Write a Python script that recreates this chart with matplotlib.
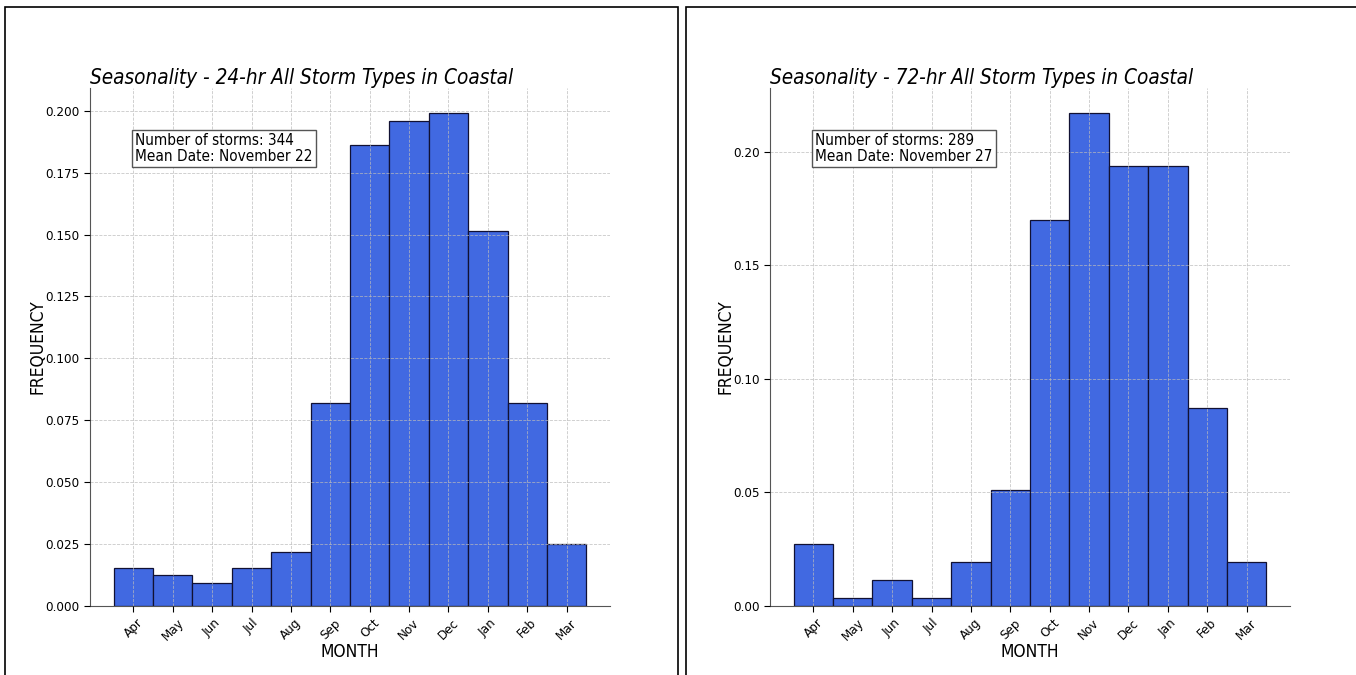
import matplotlib
matplotlib.use("Agg")
import matplotlib.pyplot as plt
from matplotlib.patches import Rectangle

months = ["Apr", "May", "Jun", "Jul", "Aug", "Sep", "Oct", "Nov", "Dec", "Jan", "Feb", "Mar"]
freq_24 = [0.0154, 0.0124, 0.0092, 0.0155, 0.0218, 0.0820, 0.1863, 0.1960, 0.1992, 0.1515, 0.0820, 0.0251]
freq_72 = [0.0274, 0.0034, 0.0115, 0.0034, 0.0194, 0.0512, 0.1700, 0.2172, 0.1938, 0.1938, 0.0870, 0.0194]
titles = ["Seasonality - 24-hr All Storm Types in Coastal", "Seasonality - 72-hr All Storm Types in Coastal"]
infos = ["Number of storms: 344\nMean Date: November 22", "Number of storms: 289\nMean Date: November 27"]

plt.rcParams['font.family'] = ['DejaVu Sans']
plt.rcParams['font.stretch'] = 'condensed'

W, H = 1356, 675
fig = plt.figure(figsize=(W / 100, H / 100), dpi=100)

# panel frames
for x0, x1 in [(5, 678), (686, 1362)]:
    fig.patches.append(Rectangle((x0 / W, -0.05), (x1 - x0) / W, (H - 7) / H + 0.05,
                                 transform=fig.transFigure, fill=False,
                                 edgecolor="black", linewidth=1.2))

ax_lefts = [90, 770]
for i, (data, title, info) in enumerate(zip([freq_24, freq_72], titles, infos)):
    l = ax_lefts[i]
    ax = fig.add_axes([l / W, (H - 606) / H, 520 / W, (606 - 88) / H])
    x = list(range(len(months)))
    ax.bar(x, data, width=1.0, color="#4169E1", edgecolor="#111133", linewidth=0.9, zorder=2)
    ax.set_xticks(x)
    ax.set_xticklabels(months, rotation=45)
    ax.grid(True, linestyle="--", color="#bbbbbb", linewidth=0.6, alpha=0.8, zorder=3)
    ax.set_axisbelow(False)
    for s in ["top", "right"]:
        ax.spines[s].set_visible(False)
    for s in ["left", "bottom"]:
        ax.spines[s].set_color("#555555")
    ax.tick_params(labelsize=9.6, length=4)
    ax.set_xlabel("MONTH", fontsize=12.5, labelpad=-0.5)
    ax.set_ylabel("FREQUENCY", fontsize=12.5, labelpad=-1)
    ax.set_title(title, fontsize=14.9, style="italic", loc="left", pad=2)
    ax.text(0.087, 0.913, info, transform=ax.transAxes, fontsize=11, va="top", ha="left",
            linespacing=1.05,
            bbox=dict(facecolor="white", edgecolor="#555555", boxstyle="square,pad=0.2"), zorder=5)

fig.savefig("out.png", dpi=100)
